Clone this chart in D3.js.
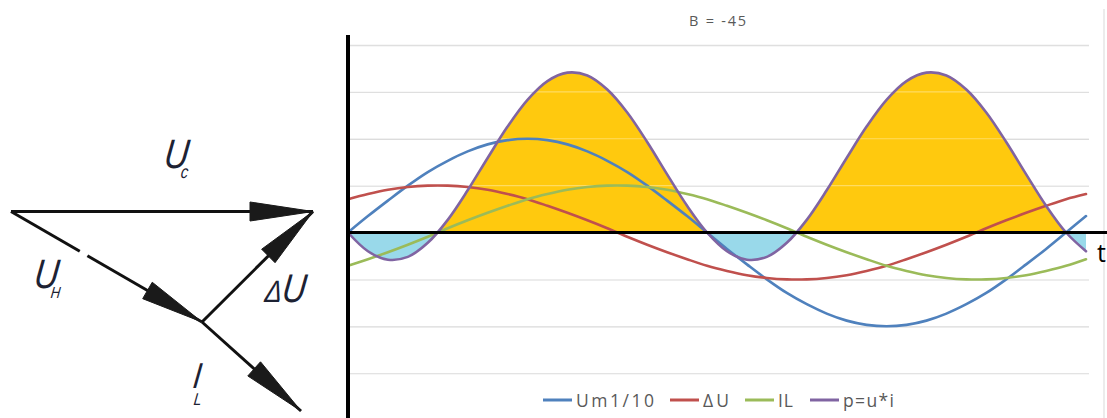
<!DOCTYPE html>
<html><head><meta charset="utf-8">
<script src="https://cdn.jsdelivr.net/npm/d3@7"></script>
<style>body{margin:0;background:#fff;} svg{display:block;}</style>
</head><body>
<svg id="c" width="1107" height="418"></svg>
<script>
// ---- data ----
const tDeg = [0,10,20,30,40,50,60,70,80,90,100,110,120,130,140,150,160,170,180,190,200,210,220,230,240,250,260,270,280,290,300,310,320,330,340,350,360,370];
const um   = [0,0.35,0.68,1.00,1.29,1.53,1.73,1.88,1.97,2.00,1.97,1.88,1.73,1.53,1.29,1.00,0.68,0.35,0,-0.35,-0.68,-1.00,-1.29,-1.53,-1.73,-1.88,-1.97,-2.00,-1.97,-1.88,-1.73,-1.53,-1.29,-1.00,-0.68,-0.35,0,0.35];
const dU   = [0.71,0.82,0.91,0.97,1.00,1.00,0.97,0.91,0.82,0.71,0.57,0.42,0.26,0.09,-0.09,-0.26,-0.42,-0.57,-0.71,-0.82,-0.91,-0.97,-1.00,-1.00,-0.97,-0.91,-0.82,-0.71,-0.57,-0.42,-0.26,-0.09,0.09,0.26,0.42,0.57,0.71,0.82];
const iL   = [-0.71,-0.57,-0.42,-0.26,-0.09,0.09,0.26,0.42,0.57,0.71,0.82,0.91,0.97,1.00,1.00,0.97,0.91,0.82,0.71,0.57,0.42,0.26,0.09,-0.09,-0.26,-0.42,-0.57,-0.71,-0.82,-0.91,-0.97,-1.00,-1.00,-0.97,-0.91,-0.82,-0.71,-0.57];
const pw   = [0,-0.40,-0.58,-0.52,-0.22,0.27,0.90,1.59,2.26,2.83,3.23,3.41,3.35,3.05,2.56,1.93,1.24,0.57,0,-0.40,-0.58,-0.52,-0.22,0.27,0.90,1.59,2.26,2.83,3.23,3.41,3.35,3.05,2.56,1.93,1.24,0.57,0,-0.40];
const seriesNames  = ["Um1/10","ΔU","IL","p=u*i"];
const seriesColors = ["#4F81BD","#C0504D","#9BBB59","#8064A2"];
const gridValues = [-3,-2,-1,1,2,3,4];
const chartTitle = "B = -45";
const axisLabel = "t";
const fillPos = "#FFC90E", fillNeg = "#99D9EA";

// vector diagram (drawing, not data)
const P = {O:[11,211.5], A:[313,211.5], B:[202,322], C:[301,411]};
const vectors = [["O","A"],["O","B"],["B","A"],["B","C"]];

const svg = d3.select("#c");

// ---------- chart ----------
const x = d3.scaleLinear([0,370],[348,1086]);
const y = d3.scaleLinear([-4,4],[420,45]);
const gridRight = 1089;

svg.append("line").attr("x1",1104).attr("x2",1104).attr("y1",9).attr("y2",418)
  .attr("stroke","#d9d9d9").attr("stroke-width",1);

const gAxis = svg.append("g").attr("transform",`translate(348,0)`)
  .call(d3.axisLeft(y).tickValues(gridValues).tickSize(-(gridRight-348)).tickFormat(""));
gAxis.select(".domain").remove();
gAxis.selectAll(".tick line").attr("stroke","#d9d9d9").attr("stroke-width",1.3);

const curve = d3.curveCatmullRom.alpha(0.5);
const idx = d3.range(tDeg.length);

const defs = svg.append("defs");
defs.append("clipPath").attr("id","above").append("rect")
  .attr("x",348).attr("y",0).attr("width",760).attr("height",y(0));
defs.append("clipPath").attr("id","below").append("rect")
  .attr("x",348).attr("y",y(0)).attr("width",760).attr("height",420-y(0));

const area = d3.area().x(i=>x(tDeg[i])).y0(y(0)).y1(i=>y(pw[i])).curve(curve);
svg.append("path").attr("d",area(idx)).attr("fill",fillPos).attr("clip-path","url(#above)");
svg.append("path").attr("d",area(idx)).attr("fill",fillNeg).attr("clip-path","url(#below)");

svg.append("g").selectAll("line").data(gridValues).join("line")
  .attr("x1",348).attr("x2",gridRight).attr("y1",d=>y(d)).attr("y2",d=>y(d))
  .attr("stroke","#ffffff").attr("stroke-opacity",0.35).attr("stroke-width",1.2);

const allSeries = [um,dU,iL,pw];
allSeries.forEach((s,k)=>{
  const line = d3.line().x(i=>x(tDeg[i])).y(i=>y(s[i])).curve(curve);
  svg.append("path").attr("d",line(idx)).attr("fill","none")
    .attr("stroke",seriesColors[k]).attr("stroke-width",2.6)
    .attr("stroke-linejoin","round").attr("stroke-linecap","round");
});

svg.append("line").attr("x1",348).attr("x2",1107).attr("y1",y(0)).attr("y2",y(0))
  .attr("stroke","#000").attr("stroke-width",3);
svg.append("line").attr("x1",348).attr("x2",348).attr("y1",35).attr("y2",418)
  .attr("stroke","#000").attr("stroke-width",4);
svg.append("text").attr("x",1097).attr("y",262).text(axisLabel)
  .attr("font-family","Open Sans, sans-serif").attr("font-size",25).attr("fill","#000");

svg.append("text").attr("x",689).attr("y",26).text(chartTitle)
  .attr("font-family","Open Sans, sans-serif").attr("font-size",14.5).attr("fill","#595959")
  .attr("textLength",57).attr("lengthAdjust","spacing");

const legX = [543,670,745,810];
const legLen = [78,26,15,51];
const lg = svg.append("g");
seriesNames.forEach((n,k)=>{
  lg.append("line").attr("x1",legX[k]).attr("x2",legX[k]+29).attr("y1",400).attr("y2",400)
    .attr("stroke",seriesColors[k]).attr("stroke-width",3);
  lg.append("text").attr("x",legX[k]+33).attr("y",407).text(n)
    .attr("font-family","Open Sans, sans-serif").attr("font-size",17.5).attr("fill","#595959")
    .attr("textLength",legLen[k]).attr("lengthAdjust","spacing");
});

// ---------- vector diagram ----------
const dg = svg.append("g");
const stroke = "#111";
function arrowHead(from,to,len,hw){
  const dx=to[0]-from[0], dy=to[1]-from[1], L=Math.hypot(dx,dy);
  const ux=dx/L, uy=dy/L, bx=to[0]-ux*len, by=to[1]-uy*len;
  return [[to[0],to[1]],[bx-uy*hw,by+ux*hw],[bx+uy*hw,by-ux*hw]];
}
vectors.forEach(([a,b])=>{
  const p0=P[a], p1=P[b];
  if(a==="O"&&b==="B"){
    const f1=0.36,f2=0.40;
    const m1=[p0[0]+(p1[0]-p0[0])*f1,p0[1]+(p1[1]-p0[1])*f1];
    const m2=[p0[0]+(p1[0]-p0[0])*f2,p0[1]+(p1[1]-p0[1])*f2];
    dg.append("line").attr("x1",p0[0]).attr("y1",p0[1]).attr("x2",m1[0]).attr("y2",m1[1]).attr("stroke",stroke).attr("stroke-width",3);
    dg.append("line").attr("x1",m2[0]).attr("y1",m2[1]).attr("x2",p1[0]).attr("y2",p1[1]).attr("stroke",stroke).attr("stroke-width",3);
  } else {
    dg.append("line").attr("x1",p0[0]).attr("y1",p0[1]).attr("x2",p1[0]).attr("y2",p1[1]).attr("stroke",stroke).attr("stroke-width",3);
  }
  dg.append("polygon").attr("points",arrowHead(p0,p1,63,9.5).map(d=>d.join(",")).join(" "))
    .attr("fill","#1a1a1a").attr("stroke","#1a1a1a").attr("stroke-width",1).attr("stroke-linejoin","miter");
});

// labels: main letter + subscript in one text element (thin, condensed italic)
const lblFont = "'Liberation Sans',Arial,sans-serif";
const lblColor = "#1d2233";
const labels = [
  {x:163,y:168,parts:[{t:"U",s:41},{t:"c",s:18,dx:-7,dy:10}]},
  {x:33,y:288,parts:[{t:"U",s:41},{t:"H",s:16,dx:-7,dy:10}]},
  {x:264,y:302,parts:[{t:"Δ",s:31},{t:"U",s:40}]},
  {x:192,y:388,parts:[{t:"I",s:36},{t:"L",s:17,dx:-6,dy:17}]}
];
labels.forEach(l=>{
  const tx = dg.append("text")
    .attr("transform",`translate(${l.x},${l.y}) skewX(-7) scale(0.82,1)`)
    .attr("font-family",lblFont).attr("font-style","italic").attr("fill",lblColor);
  l.parts.forEach(p=>{
    const ts = tx.append("tspan").text(p.t).attr("font-size",p.s);
    if(p.dx) ts.attr("dx",p.dx);
    if(p.dy) ts.attr("dy",p.dy);
  });
});
</script>
</body></html>
